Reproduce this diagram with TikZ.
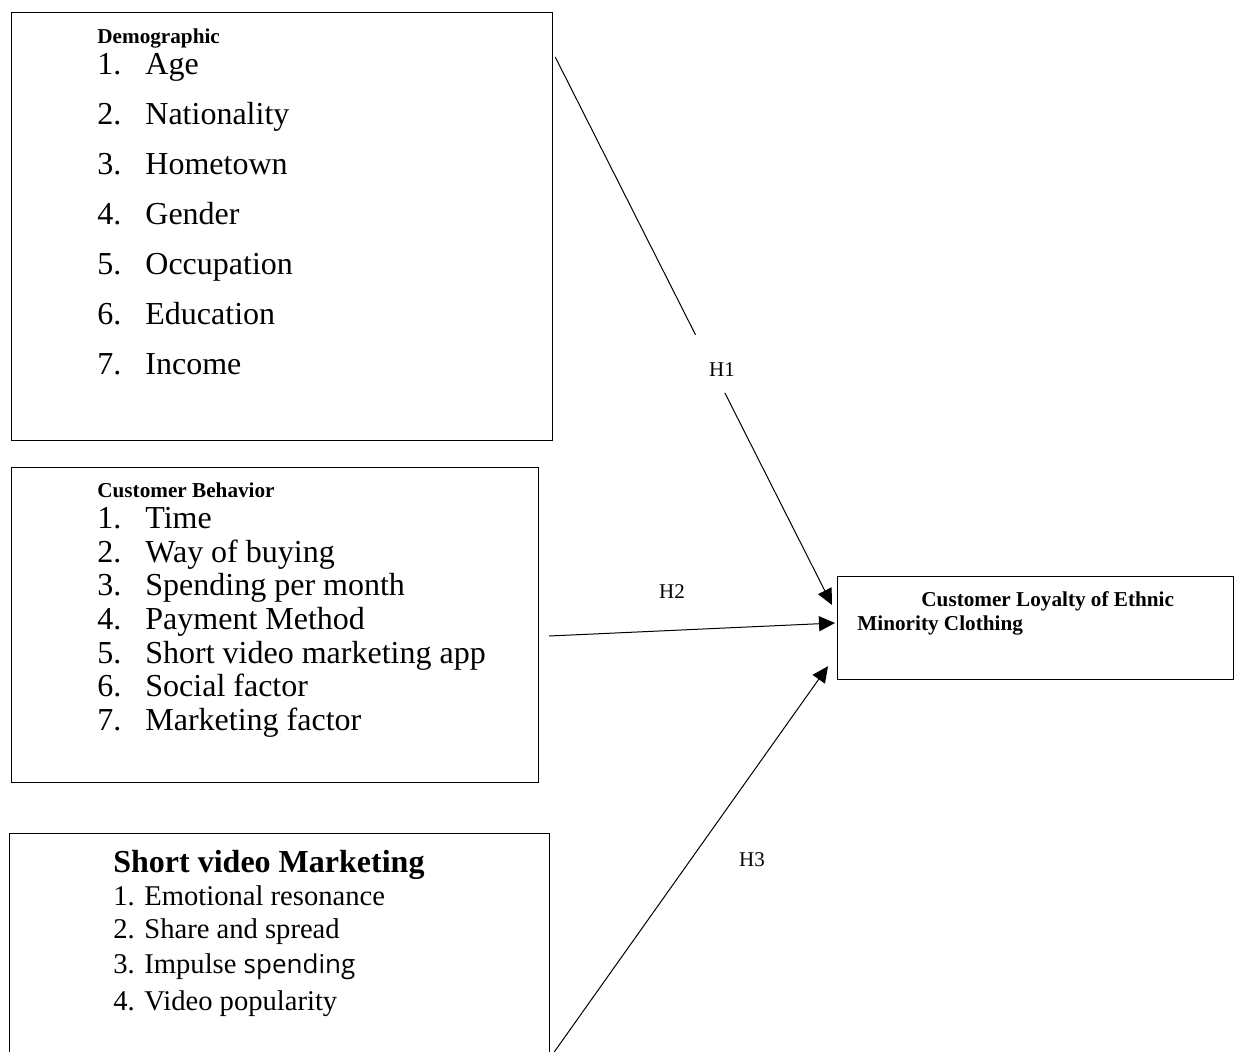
\documentclass[tikz,border=0pt]{standalone}
\usepackage{fontspec}
\setmainfont{Liberation Serif}
\newfontfamily\opensans{Open Sans}
\usetikzlibrary{arrows.meta,calc}

\newcommand{\headfont}{\fontsize{10.6}{12}\selectfont\bfseries}
\newcommand{\bigitem}{\fontsize{16}{19}\selectfont}
\newcommand{\miditem}{\fontsize{16}{19}\selectfont}
\newcommand{\smallitem}{\fontsize{14.3}{17}\selectfont}
\newcommand{\hypfont}{\fontsize{10.5}{12}\selectfont}

\begin{document}
\begin{tikzpicture}[x=0.5pt,y=0.5pt,yscale=-1,xscale=1,
  box/.style={draw,line width=0.6pt,anchor=north west,inner sep=0pt},
  txt/.style={anchor=base west,inner sep=0pt},
  arr/.style={-{Triangle[length=8pt,width=7.5pt]},line width=0.5pt}]
\useasboundingbox (0,0) rectangle (1235,1052);

%Shape: Rectangle
\node (demo) [box,minimum width=270.5pt,minimum height=214pt] at (11,12) {};
%Shape: Rectangle
\node (behav) [box,minimum width=263.5pt,minimum height=157.5pt] at (11,467) {};
%Shape: Rectangle
\node (svm) [box,minimum width=270pt,minimum height=130pt] at (9,833) {};
%Shape: Rectangle
\node (loyal) [box,minimum width=198pt,minimum height=51.5pt] at (837,576) {};

% Text Node
\node (demoHead) [txt,font=\headfont] at (97,44) {Demographic};
\node (demoA) [txt,font=\bigitem] at (97,75) {\makebox[24pt][l]{1.}Age};
\node (demoB) [txt,font=\bigitem] at (97,125) {\makebox[24pt][l]{2.}Nationality};
\node (demoC) [txt,font=\bigitem] at (97,175) {\makebox[24pt][l]{3.}Hometown};
\node (demoD) [txt,font=\bigitem] at (97,225) {\makebox[24pt][l]{4.}Gender};
\node (demoE) [txt,font=\bigitem] at (97,275) {\makebox[24pt][l]{5.}Occupation};
\node (demoF) [txt,font=\bigitem] at (97,325) {\makebox[24pt][l]{6.}Education};
\node (demoG) [txt,font=\bigitem] at (97,375) {\makebox[24pt][l]{7.}Income};

% Text Node
\node (behavHead) [txt,font=\headfont] at (97,498) {Customer Behavior};
\node (behavA) [txt,font=\miditem] at (97,529) {\makebox[24pt][l]{1.}Time};
\node (behavB) [txt,font=\miditem] at (97,562.5) {\makebox[24pt][l]{2.}Way of buying};
\node (behavC) [txt,font=\miditem] at (97,596) {\makebox[24pt][l]{3.}Spending per month};
\node (behavD) [txt,font=\miditem] at (97,629.5) {\makebox[24pt][l]{4.}Payment Method};
\node (behavE) [txt,font=\miditem] at (97,663) {\makebox[24pt][l]{5.}Short video marketing app};
\node (behavF) [txt,font=\miditem] at (97,696.5) {\makebox[24pt][l]{6.}Social factor};
\node (behavG) [txt,font=\miditem] at (97,730) {\makebox[24pt][l]{7.}Marketing factor};

% Text Node
\node (svmHead) [txt,font=\fontsize{16}{19}\selectfont\bfseries] at (113,872) {Short video Marketing};
\node (svmA) [txt,font=\smallitem] at (113,905) {1. Emotional resonance};
\node (svmB) [txt,font=\smallitem] at (113,938) {2. Share and spread};
\node (svmC) [txt,font=\smallitem] at (113,973) {3. Impulse {\opensans\fontsize{13}{15}\selectfont spending}};
\node (svmD) [txt,font=\smallitem] at (113,1010) {4. Video popularity};

% Text Node
\node (loyalA) [txt,font=\fontsize{10.6}{12}\selectfont\bfseries] at (921,606) {Customer Loyalty of Ethnic};
\node (loyalB) [txt,font=\fontsize{10.6}{12}\selectfont\bfseries] at (857,630) {Minority Clothing};

% Text Node
\node (h1) [inner sep=0pt,font=\hypfont] at (722,370) {H1};
\node (h2) [inner sep=0pt,font=\hypfont] at (672,592) {H2};
\node (h3) [inner sep=0pt,font=\hypfont] at (752,860) {H3};

%Straight Lines
\coordinate (h1from) at ($(demo.north east)+(2,45)$);
\coordinate (h1to) at ($(loyal.north west)+(-5,29)$);
\draw [line width=0.5pt] (h1from) -- ($(h1from)!0.507!(h1to)$);
\draw [arr] ($(h1from)!0.613!(h1to)$) -- (h1to);
%Straight Lines
\draw [arr] ($(behav.north east)+(10,169)$) -- ($(loyal.north west)+(-2,47)$);
%Straight Lines
\draw [arr] ($(svm.north east)+(4,219)$) -- ($(loyal.south west)+(-9,-14)$);

\end{tikzpicture}
\end{document}
